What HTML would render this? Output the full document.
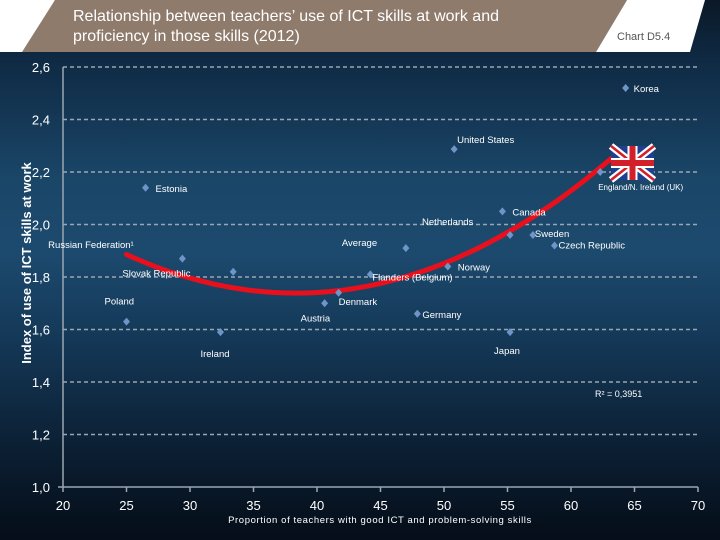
<!DOCTYPE html>
<html><head><meta charset="utf-8"><style>
html,body{margin:0;padding:0;}
body{width:720px;height:540px;overflow:hidden;position:relative;font-family:"Liberation Sans",sans-serif;
background:linear-gradient(180deg,#0b1826 0px,#0f2a44 60px,#1a4668 180px,#1c4a6e 250px,#153a5a 330px,#0c2136 440px,#050d18 540px);}
svg{position:absolute;left:0;top:0;}
</style></head><body>
<svg width="720" height="540">
<polygon points="0,0 55,0 28,52 0,52" fill="#ffffff"/>
<polygon points="55,0 627,0 596,52 22,52" fill="#8f7b6c"/>
<polygon points="627,0 705,0 690,52 596,52" fill="#ffffff"/>
<text x="73" y="21" fill="#fff" font-size="16">Relationship between teachers’ use of ICT skills at work and</text>
<text x="73" y="41" fill="#fff" font-size="16">proficiency in those skills (2012)</text>
<text x="617" y="40" fill="#555" font-size="11">Chart D5.4</text>
<g id="grid"></g><g id="axes"></g><g id="curve"></g><g id="pts"></g>
<text transform="translate(31,263) rotate(-90)" text-anchor="middle" fill="#fff" font-size="13" font-weight="bold">Index of use of ICT skills at work</text>
<text x="380" y="523" text-anchor="middle" fill="#fff" font-size="9.5" letter-spacing="0.6">Proportion of teachers with good ICT and problem-solving skills</text>
<text x="595" y="397" fill="#fff" font-size="9">R² = 0,3951</text>
<g id="flag" transform="translate(611,146)">
<rect width="43" height="34" fill="#1f3f8f"/>
<path d="M0,0 L43,34 M43,0 L0,34" stroke="#fff" stroke-width="7"/>
<path d="M0,0 L43,34 M43,0 L0,34" stroke="#d21f2a" stroke-width="2.5"/>
<path d="M21.5,0 V34 M0,17 H43" stroke="#fff" stroke-width="10"/>
<path d="M21.5,0 V34 M0,17 H43" stroke="#d21f2a" stroke-width="6"/>
</g>
</svg>
<script>
const countries=["Korea","United States","England/N. Ireland (UK)","Estonia","Canada","Netherlands","Sweden","Czech Republic","Average","Slovak Republic","Russian Federation¹","Flanders (Belgium)","Norway","Denmark","Austria","Germany","Poland","Ireland","Japan"];
const xVals=[64.3,50.8,62.3,26.5,54.6,55.2,57.0,58.7,47.0,29.4,33.4,44.2,50.3,41.7,40.6,47.9,25.0,32.4,55.2];
const yVals=[2.52,2.287,2.20,2.14,2.05,1.96,1.96,1.92,1.91,1.87,1.82,1.81,1.84,1.74,1.70,1.66,1.63,1.59,1.59];
const labelDx=[8,3,-2,10,10,-88,2,4,-64,-60,-185,2,10,0,-24,5,-22,-20,-16];
const labelDy=[4,-6,18,4,4,-10,2,3,-2,18,-24,6,4,12,18,4,-17,25,22];
const yTicks=[1.0,1.2,1.4,1.6,1.8,2.0,2.2,2.4,2.6];
const yTickLabels=["1,0","1,2","1,4","1,6","1,8","2,0","2,2","2,4","2,6"];
const xTicks=[20,25,30,35,40,45,50,55,60,65,70];
const trendCoef=[2.957,-0.0636,0.000830];
const trendRange=[25,63.3];
const X=v=>63+(v-20)*(698-63)/50;
const Y=v=>487-(v-1.0)*(487-67)/1.6;
const NS="http://www.w3.org/2000/svg";
function mk(tag,attrs,parent,txt){const e=document.createElementNS(NS,tag);for(const k in attrs)e.setAttribute(k,attrs[k]);if(txt!==undefined)e.textContent=txt;document.getElementById(parent).appendChild(e);return e;}
yTicks.forEach((t,i)=>{
 if(i>0){const l=mk('line',{x1:63,x2:698,y1:Y(t),y2:Y(t),stroke:'#9aa6b2','stroke-width':1.5,'stroke-dasharray':'4,3'},'grid');
 
 }
 const tx=mk('text',{x:50,y:Y(t)+5,'text-anchor':'end',fill:'#fff','font-size':13},'axes',yTickLabels[i]);
 
 
});
let ax=mk('line',{x1:63,x2:63,y1:67,y2:487,stroke:'#9aa6b2','stroke-width':1.5},'axes');


ax=mk('line',{x1:58,x2:698,y1:487,y2:487,stroke:'#9aa6b2','stroke-width':1.5},'axes');


xTicks.forEach(t=>{
 const tk=mk('line',{x1:X(t),x2:X(t),y1:487,y2:492,stroke:'#9aa6b2','stroke-width':1.5},'axes');
 
 
 const tx=mk('text',{x:X(t),y:510,'text-anchor':'middle',fill:'#fff','font-size':13},'axes',String(t));
 
 
});
let d='';
for(let i=0;i<=60;i++){const x=trendRange[0]+(trendRange[1]-trendRange[0])*i/60;const y=trendCoef[0]+trendCoef[1]*x+trendCoef[2]*x*x;d+=(i?'L':'M')+X(x).toFixed(1)+','+Y(y).toFixed(1);}
const tr=mk('path',{d:d,fill:'none',stroke:'#e8101c','stroke-width':5,'stroke-linecap':'round'},'curve');


countries.forEach((c,i)=>{
 const px=X(xVals[i]),py=Y(yVals[i]);
 const m=mk('path',{d:`M${px},${py-4}L${px+3.5},${py}L${px},${py+4}L${px-3.5},${py}Z`,fill:'#6f95c8'},'pts');
 
 
 const t=mk('text',{x:px+labelDx[i],y:py+labelDy[i],fill:'#fff','font-size':i==2?8:9.5},'pts',c);
 
 
});
</script>
</body></html>
